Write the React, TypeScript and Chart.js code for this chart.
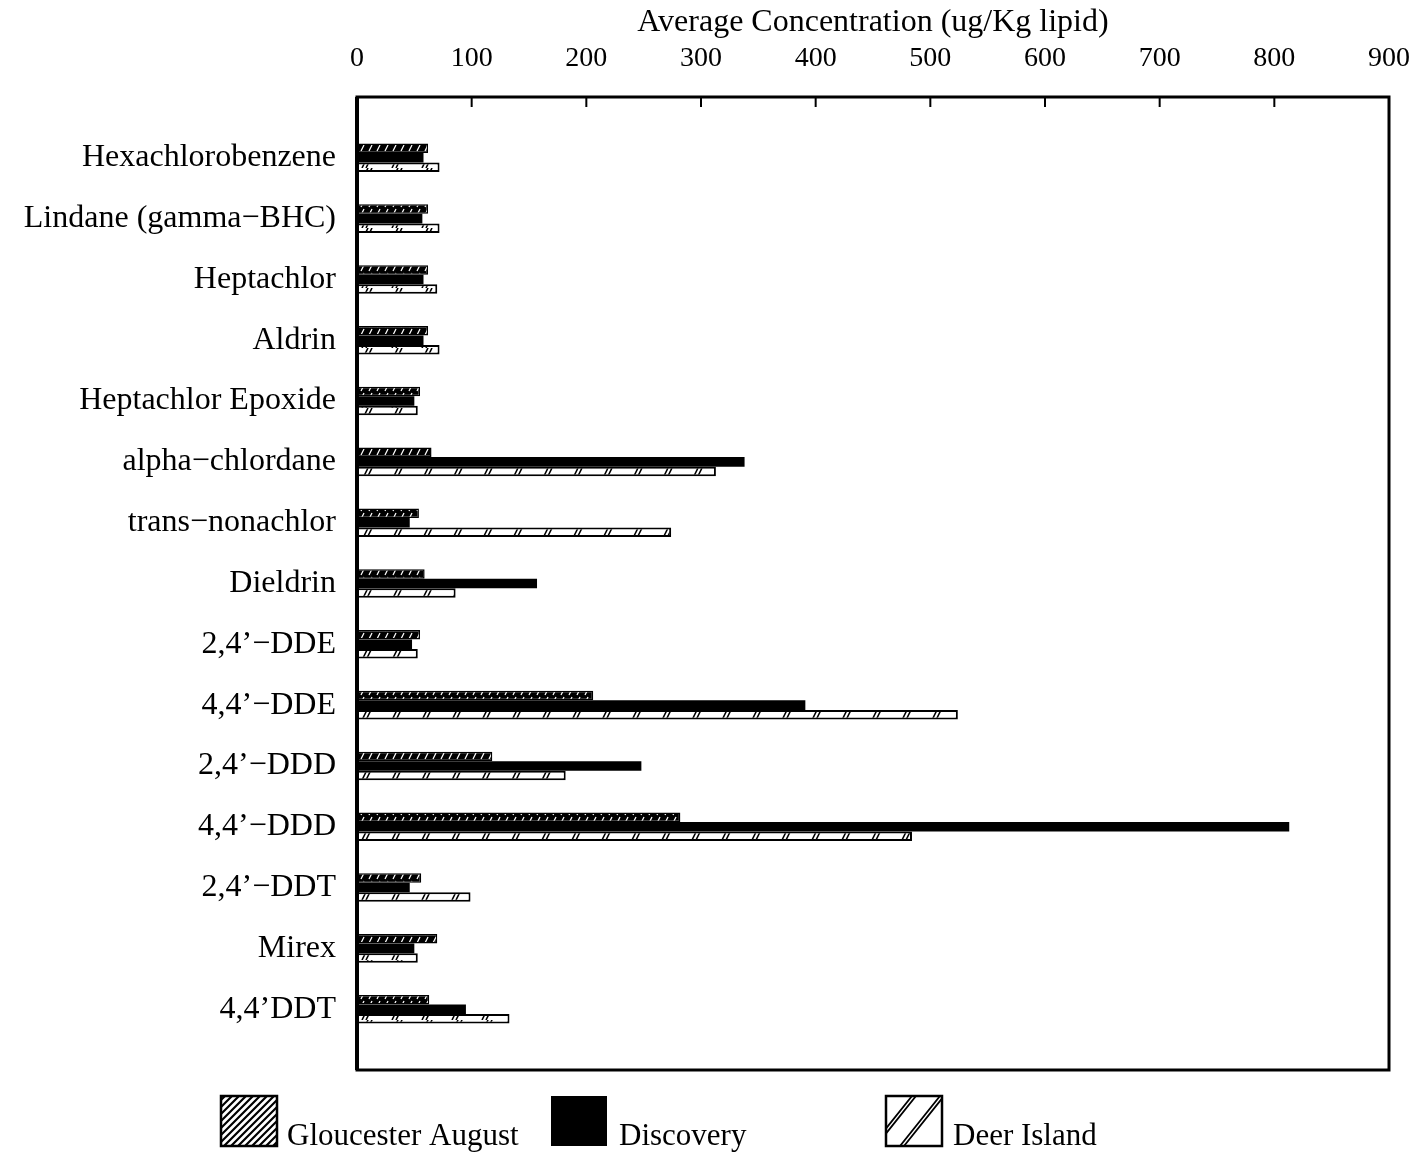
import React, { useEffect, useRef } from 'react';
import { Chart, registerables } from 'chart.js';

Chart.register(...registerables);

const categories = [
  'Hexachlorobenzene',
  'Lindane (gamma−BHC)',
  'Heptachlor',
  'Aldrin',
  'Heptachlor Epoxide',
  'alpha−chlordane',
  'trans−nonachlor',
  'Dieldrin',
  '2,4’−DDE',
  '4,4’−DDE',
  '2,4’−DDD',
  '4,4’−DDD',
  '2,4’−DDT',
  'Mirex',
  '4,4’DDT',
];
const gloucesterAugust = [62, 62, 62, 62, 55, 65, 54, 59, 55, 206, 118, 282, 56, 70, 63];
const discovery = [58, 57, 58, 58, 50, 338, 46, 157, 48, 391, 248, 813, 46, 50, 95];
const deerIsland = [72, 72, 70, 72, 53, 313, 274, 86, 53, 524, 182, 484, 99, 53, 133];
const seriesNames = ['Gloucester August', 'Discovery', 'Deer Island'];
const axisTitle = 'Average Concentration (ug/Kg lipid)';
const xMin = 0;
const xMax = 900;
const xStep = 100;

const FONT = '"Liberation Serif", "Times New Roman", serif';

function makeDensePattern(): CanvasPattern | string {
  const t = document.createElement('canvas');
  t.width = 8;
  t.height = 8;
  const c = t.getContext('2d');
  if (!c) return '#000';
  c.fillStyle = '#000';
  c.fillRect(0, 0, 8, 8);
  c.strokeStyle = '#fff';
  c.lineWidth = 1.3;
  c.beginPath();
  c.moveTo(1, 7);
  c.lineTo(4, 1);
  c.stroke();
  const p = c.createPattern(t, 'repeat');
  return p || '#000';
}

function makeSparsePattern(): CanvasPattern | string {
  const t = document.createElement('canvas');
  t.width = 30;
  t.height = 12;
  const c = t.getContext('2d');
  if (!c) return '#fff';
  c.fillStyle = '#fff';
  c.fillRect(0, 0, 30, 12);
  c.strokeStyle = '#000';
  c.lineWidth = 1.6;
  c.beginPath();
  c.moveTo(2, 12);
  c.lineTo(8, 0);
  c.moveTo(6, 12);
  c.lineTo(12, 0);
  c.stroke();
  const p = c.createPattern(t, 'repeat');
  return p || '#fff';
}

export default function App() {
  const ref = useRef<HTMLCanvasElement | null>(null);

  useEffect(() => {
    document.body.style.margin = '0';
    const canvas = ref.current;
    if (!canvas) return;

    const labels = ['', ...categories, ''];
    const pad = (a: number[]) => [null, ...a, null];

    const framePlugin = {
      id: 'frameAndLegend',
      afterDraw(chart: any) {
        const { ctx, chartArea } = chart;
        const { left, top, right, bottom } = chartArea;
        ctx.save();
        ctx.strokeStyle = '#000';
        ctx.lineWidth = 3;
        ctx.strokeRect(left, top, right - left, bottom - top);
        ctx.lineWidth = 4;
        ctx.beginPath();
        ctx.moveTo(left, top);
        ctx.lineTo(left, bottom);
        ctx.stroke();
        // inner ticks on top axis
        const xs = chart.scales.x;
        ctx.lineWidth = 2;
        ctx.beginPath();
        xs.ticks.forEach((t: any) => {
          const px = xs.getPixelForValue(t.value);
          ctx.moveTo(px, top);
          ctx.lineTo(px, top + 10);
        });
        ctx.stroke();

        // legend
        const boxW = 56;
        const boxH = 50;
        const by = 1096;
        const boxXs = [221, 551, 886];
        const textXs = [287, 619, 953];
        ctx.font = `31px ${FONT}`;
        ctx.fillStyle = '#000';
        ctx.textBaseline = 'alphabetic';
        ctx.textAlign = 'left';
        seriesNames.forEach((name, i) => {
          const bx = boxXs[i];
          if (i === 1) {
            ctx.fillStyle = '#000';
            ctx.fillRect(bx, by, boxW, boxH);
          } else {
            ctx.fillStyle = '#fff';
            ctx.fillRect(bx, by, boxW, boxH);
            ctx.save();
            ctx.beginPath();
            ctx.rect(bx, by, boxW, boxH);
            ctx.clip();
            ctx.strokeStyle = '#000';
            if (i === 0) {
              ctx.lineWidth = 2.2;
              ctx.beginPath();
              for (let k = -60; k < 80; k += 7) {
                ctx.moveTo(bx + k, by + boxH);
                ctx.lineTo(bx + k + boxH, by);
              }
              ctx.stroke();
            } else {
              ctx.lineWidth = 1.8;
              ctx.beginPath();
              const starts = [-14, -10, 14, 18];
              starts.forEach((s) => {
                ctx.moveTo(bx + s, by + boxH);
                ctx.lineTo(bx + s + 40, by);
              });
              ctx.stroke();
            }
            ctx.restore();
            ctx.strokeStyle = '#000';
            ctx.lineWidth = 2.5;
            ctx.strokeRect(bx, by, boxW, boxH);
          }
          ctx.fillStyle = '#000';
          ctx.fillText(name, textXs[i], 1145);
        });
        ctx.restore();
      },
    };

    const chart = new Chart(canvas, {
      type: 'bar',
      data: {
        labels,
        datasets: [
          {
            label: seriesNames[0],
            data: pad(gloucesterAugust) as any,
            backgroundColor: makeDensePattern() as any,
            borderColor: '#000',
            borderWidth: 1.5,
          },
          {
            label: seriesNames[1],
            data: pad(discovery) as any,
            backgroundColor: '#000',
            borderColor: '#000',
            borderWidth: 0,
          },
          {
            label: seriesNames[2],
            data: pad(deerIsland) as any,
            backgroundColor: makeSparsePattern() as any,
            borderColor: '#000',
            borderWidth: 2,
          },
        ],
      },
      plugins: [framePlugin],
      options: {
        indexAxis: 'y',
        responsive: false,
        animation: false,
        maintainAspectRatio: false,
        datasets: {
          bar: {
            categoryPercentage: 0.47,
            barPercentage: 1.0,
          },
        },
        layout: {
          padding: { top: 0, left: 0, right: 34, bottom: 85 },
        },
        plugins: {
          legend: { display: false },
          tooltip: { enabled: false },
          title: { display: false },
        },
        scales: {
          x: {
            type: 'linear',
            position: 'top',
            min: xMin,
            max: xMax,
            grid: { display: false },
            border: { display: false },
            ticks: {
              stepSize: xStep,
              color: '#000',
              padding: 14,
              font: { family: FONT, size: 28 },
            },
            title: {
              display: true,
              text: axisTitle,
              color: '#000',
              font: { family: FONT, size: 32 },
              padding: { top: 3, bottom: 0 },
            },
            afterFit: (s: any) => {
              s.height = 97;
            },
          },
          y: {
            type: 'category',
            offset: false,
            grid: { display: false },
            border: { display: false },
            ticks: {
              autoSkip: false,
              color: '#000',
              padding: 13,
              font: { family: FONT, size: 32 },
            },
            afterFit: (s: any) => {
              s.width = 357;
            },
          },
        },
      },
    });

    return () => {
      chart.destroy();
    };
  }, []);

  return (
    <div style={{ width: 1424, height: 1155, background: '#fff' }}>
      <canvas ref={ref} width={1424} height={1155} style={{ display: 'block' }} />
    </div>
  );
}
